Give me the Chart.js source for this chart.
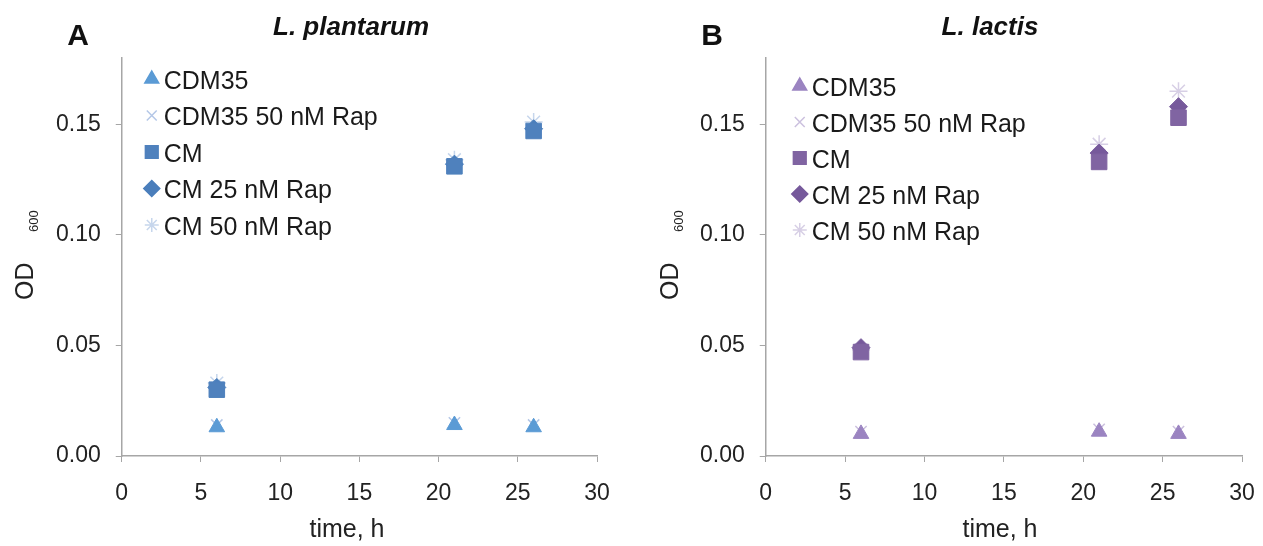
<!DOCTYPE html>
<html>
<head>
<meta charset="utf-8">
<script src="https://cdn.jsdelivr.net/npm/chart.js@4.4.1/dist/chart.umd.min.js"></script>
<style>
  body { margin: 0; background: #fff; overflow: hidden; }
  .panel { position: absolute; top: 0; height: 546px; }
</style>
</head>
<body>
<div class="panel" style="left:0; width:632px"><canvas id="chartA"></canvas></div>
<div class="panel" style="left:632px; width:643px"><canvas id="chartB"></canvas></div>
<script>
let times = [6, 21, 26];
let seriesNames = ["CDM35", "CDM35 50 nM Rap", "CM", "CM 25 nM Rap", "CM 50 nM Rap"];
let xTicks = [0, 5, 10, 15, 20, 25, 30];
let yTicks = [0, 0.05, 0.1, 0.15];

// L. plantarum
let plantarumCDM35 = [0.013, 0.014, 0.013];
let plantarumCDM35Rap50 = [0.014, 0.015, 0.014];
let plantarumCM = [0.030, 0.131, 0.147];
let plantarumCMRap25 = [0.031, 0.132, 0.148];
let plantarumCMRap50 = [0.033, 0.134, 0.151];

// L. lactis
let lactisCDM35 = [0.010, 0.011, 0.010];
let lactisCDM35Rap50 = [0.011, 0.012, 0.011];
let lactisCM = [0.047, 0.133, 0.153];
let lactisCMRap25 = [0.049, 0.137, 0.158];
let lactisCMRap50 = [0.048, 0.141, 0.165];

let pointStyles = ["triangle", "crossRot", "rect", "rectRot", "star"];
let pointSizes = [9, 8, 11, 9, 9];
let legendSizes = [8, 7, 9, 8, 7];
let blueColors = ["#5b9bd5", "#b4c7e7", "#4f81bd", "#4a7ebb", "#c6d6ec"];
let purpleColors = ["#9b84c1", "#cbc0de", "#8064a2", "#76599b", "#d7cfe5"];
let fontName = "'Liberation Sans', Arial, sans-serif";

function drawMarker(ctx, style, r, x, y) {
  if (Chart.helpers && Chart.helpers.drawPoint) {
    Chart.helpers.drawPoint(ctx, { pointStyle: style, radius: r, borderWidth: 1.5, rotation: 0 }, x, y);
    return;
  }
  ctx.beginPath();
  ctx.rect(x - r * 0.7, y - r * 0.7, r * 1.4, r * 1.4);
  ctx.fill();
}

// panel letter, titles, OD600 label and the legend inside the plot
const panelText = {
  id: "panelText",
  afterDatasetsDraw(chart, args, opts) {
    const ctx = chart.ctx;
    const area = chart.chartArea;
    ctx.save();
    ctx.fillStyle = "#111";
    ctx.textBaseline = "middle";
    ctx.textAlign = "center";
    ctx.font = "bold 30px " + fontName;
    ctx.fillText(opts.letter, opts.letterX, 37);
    ctx.font = "italic bold 26px " + fontName;
    ctx.fillText(opts.title, opts.titleX, 28);

    ctx.fillStyle = "#222";
    ctx.font = "25px " + fontName;
    ctx.fillText("time, h", opts.xTitleX, 530);

    // legend
    ctx.textAlign = "left";
    ctx.font = "25px " + fontName;
    chart.data.datasets.forEach((ds, i) => {
      let y = area.top + opts.legendTop + i * opts.legendStep;
      ctx.fillStyle = ds.backgroundColor;
      ctx.strokeStyle = ds.borderColor;
      ctx.lineWidth = 1.5;
      drawMarker(ctx, ds.pointStyle, legendSizes[i], area.left + opts.legendX, y - 3);
      ctx.fillStyle = "#1a1a1a";
      ctx.fillText(ds.label, area.left + opts.legendX + 12, y);
    });

    // y axis title with subscript
    ctx.translate(opts.odX, 300);
    ctx.rotate(-Math.PI / 2);
    ctx.textBaseline = "alphabetic";
    ctx.fillStyle = "#222";
    ctx.font = "25px " + fontName;
    ctx.fillText("OD", 0, 0);
    ctx.font = "13px " + fontName;
    ctx.fillText("600", 68, 5);
    ctx.restore();
  }
};

function buildDatasets(values, colors) {
  return values.map((vals, i) => ({
    label: seriesNames[i],
    data: times.map((t, j) => ({ x: t, y: vals[j] })),
    pointStyle: pointStyles[i],
    pointRadius: pointSizes[i],
    borderWidth: i === 1 || i === 4 ? 1.5 : 1,
    backgroundColor: colors[i],
    borderColor: colors[i],
    showLine: false
  }));
}

function makeChart(id, text, values, colors, padLeft, padRight) {
  new Chart(document.getElementById(id), {
    type: "scatter",
    data: { datasets: buildDatasets(values, colors) },
    plugins: [panelText],
    options: {
      responsive: true,
      maintainAspectRatio: false,
      animation: false,
      layout: { padding: { left: padLeft, right: padRight, top: 58, bottom: 21 } },
      plugins: {
        panelText: text,
        legend: { display: false },
        tooltip: { enabled: false }
      },
      scales: {
        x: {
          min: 0,
          max: 30,
          ticks: { stepSize: 5, color: "#222", font: { family: fontName, size: 23, lineHeight: 1 }, padding: 20 },
          afterBuildTicks: (axis) => { axis.ticks = xTicks.map(v => ({ value: v })); },
          grid: { drawOnChartArea: false, color: "#a6a6a6", tickLength: 6 },
          border: { color: "#a6a6a6", width: 1.5 }
        },
        y: {
          min: 0,
          max: 0.18,
          ticks: {
            color: "#222",
            font: { family: fontName, size: 23 },
            padding: 15,
            callback: (v) => v.toFixed(2)
          },
          afterBuildTicks: (axis) => { axis.ticks = yTicks.map(v => ({ value: v })); },
          grid: { drawOnChartArea: false, color: "#a6a6a6", tickLength: 6 },
          border: { color: "#a6a6a6", width: 1.5 }
        }
      }
    }
  });
}

makeChart("chartA",
  { letter: "A", letterX: 78, title: "L. plantarum", titleX: 351, xTitleX: 347, odX: 33, legendX: 30, legendTop: 24, legendStep: 36.5 },
  [plantarumCDM35, plantarumCDM35Rap50, plantarumCM, plantarumCMRap25, plantarumCMRap50],
  blueColors, 41, 35);
makeChart("chartB",
  { letter: "B", letterX: 80, title: "L. lactis", titleX: 358, xTitleX: 368, odX: 46, legendX: 34, legendTop: 31, legendStep: 36 },
  [lactisCDM35, lactisCDM35Rap50, lactisCM, lactisCMRap25, lactisCMRap50],
  purpleColors, 53, 33);
</script>
</body>
</html>
